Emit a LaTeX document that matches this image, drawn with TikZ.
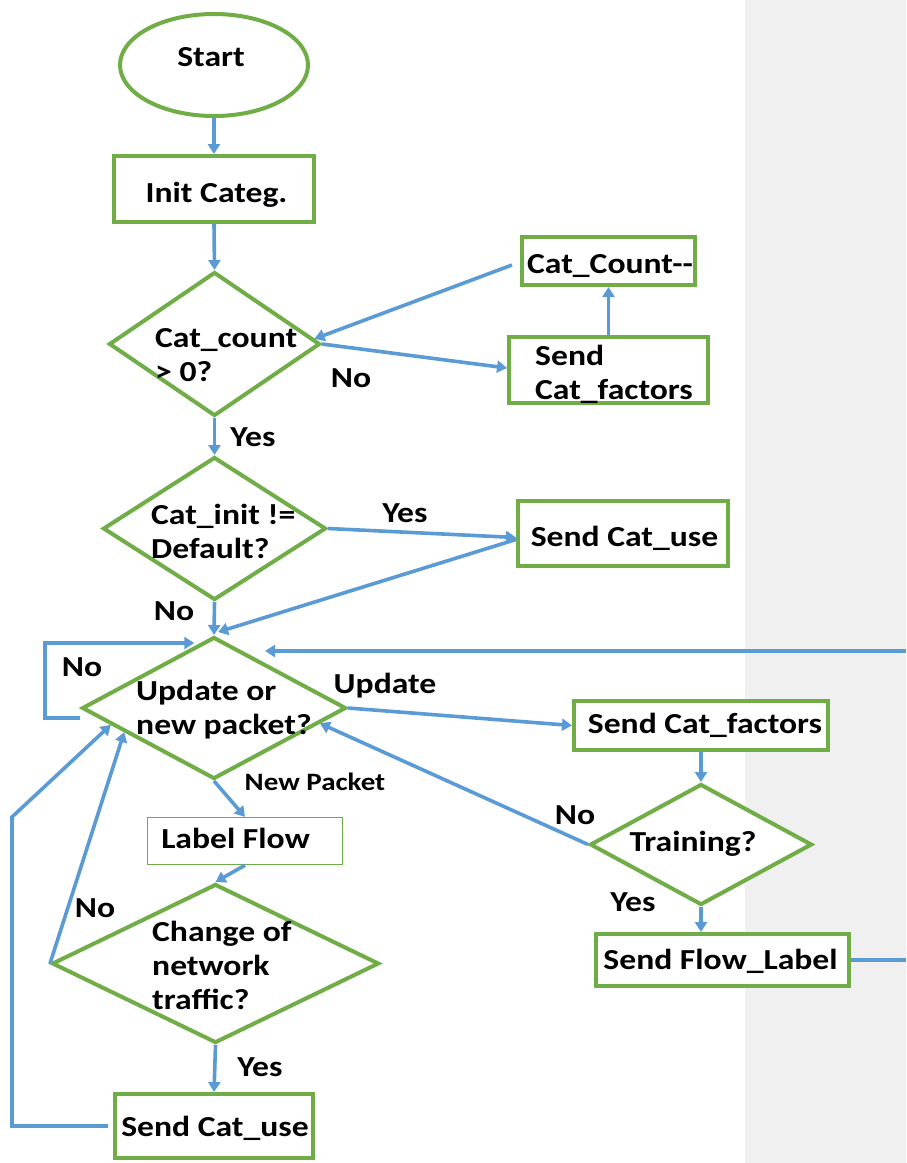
\documentclass[tikz,border=0pt]{standalone}
\usepackage{fontspec}
\setmainfont{Carlito}[FakeStretch=1.16]
\usetikzlibrary{shapes.geometric,arrows.meta,calc}
\definecolor{flowgreen}{HTML}{70AD47}
\definecolor{flowblue}{HTML}{5B9BD5}
\definecolor{panelgray}{HTML}{F0F0F0}
\begin{document}
\begin{tikzpicture}[x=1pt,y=-1pt,
  font=\bfseries\fontsize{29}{34}\selectfont,
  box/.style={draw=flowgreen, line width=4pt, fill=white, rectangle, inner sep=0pt},
  dec/.style={draw=flowgreen, line width=4pt, fill=white, diamond, inner sep=0pt},
  arr/.style={draw=flowblue, line width=3.6pt, -{Triangle[length=10pt,width=12pt]}},
  link/.style={draw=flowblue, line width=3.6pt},
  lbl/.style={inner sep=0pt},
  captext/.style={inner sep=0pt, text height=18pt, text depth=0pt},
  txt/.style={inner sep=0pt, align=left, anchor=west}]

% canvas and the grey side panel
\useasboundingbox (0,0) rectangle (906,1163);
\fill[white] (0,0) rectangle (906,1163);
\fill[panelgray] (745,0) rectangle (906,1163);

% shapes
\node[draw=flowgreen, line width=4pt, fill=white, ellipse, inner sep=0pt,
      minimum width=188, minimum height=102] (start) at (214,65) {};
\node[box, minimum width=200, minimum height=66] (init) at (214,189) {};
\node[dec, minimum width=211, minimum height=144] (d1) at (214.5,344) {};
\node[box, minimum width=173, minimum height=48] (catcnt) at (608.5,261) {};
\node[box, minimum width=199, minimum height=66] (sendf1) at (608.5,370) {};
\node[dec, minimum width=223, minimum height=143] (d2) at (214.5,528.5) {};
\node[box, minimum width=210, minimum height=65] (senduse1) at (623,533.5) {};
\node[dec, minimum width=264, minimum height=142] (d3) at (214,708) {};
\node[box, minimum width=254, minimum height=49] (sendf2) at (701,725.5) {};
\node[dec, minimum width=222, minimum height=121] (dtrain) at (701,844.5) {};
\node[box, minimum width=253, minimum height=52] (flowlab) at (722.5,960) {};
\node[box, line width=1.3pt, minimum width=195, minimum height=47] (labflow) at (245,841) {};
\node[dec, minimum width=327, minimum height=159] (dchange) at (215.5,963.5) {};
\node[box, minimum width=198, minimum height=64] (senduse2) at (214,1126) {};

% texts of the shapes
\node[captext] at (211,57.5) {Start};
\node[captext] at (216.5,193) {Init Categ.};
\node[txt] at (155,355) {Cat\_count\\> 0?};
\node[captext] at (610,264.5) {Cat\_Count-{}-};
\node[txt] at (535,374) {Send\\Cat\_factors};
\node[txt] at (151,531) {Cat\_init !=\\Default?};
\node[captext] at (624.5,537.5) {Send Cat\_use};
\node[txt] at (136,710) {Update or\\new packet?};
\node[captext] at (705,724) {Send Cat\_factors};
\node[captext] at (693,842) {Training?};
\node[captext] at (720.5,960.5) {Send Flow\_Label};
\node[captext] at (235.5,839) {Label Flow};
\node[txt] at (152,965) {Change of\\network\\traffic?};
\node[captext] at (215,1127.5) {Send Cat\_use};

% free ends of the feedback line from the side panel
\coordinate (feedin) at (906,651);
\coordinate (feedtip) at (265,651);
\coordinate (feedout) at (906,960);
\coordinate (backcorner) at (12,817);

% connectors
\draw[arr] (start.south) -- (init.north);
\draw[arr] (init.south) -- (d1.north);
\draw[arr] ([xshift=-8pt,yshift=-4pt]catcnt.west) -- ($(d1.east)!0.07!(d1.north)$);
\draw[arr] (d1.east) -- ([yshift=2pt]sendf1.west);
\draw[arr] (sendf1.north) -- (catcnt.south);
\draw[arr] (d1.south) -- (d2.north);
\draw[arr] (d2.east) -- ([yshift=-4pt]senduse1.west);
\draw[arr] ([yshift=-6pt]senduse1.west) -- ([shift={(4pt,3pt)}]d3.north);
\draw[arr] (d2.south) -- (d3.north);
\draw[arr] ([yshift=-10pt]d3.west) -- ++(-35,0) |- ($(d3.north)!0.11!(d3.west)+(-5,0)$);
\draw[arr] (feedin) -- (feedtip);
\draw[arr] (d3.east) -- (sendf2.west);
\draw[arr] (sendf2.south) -- (dtrain.north);
\draw[arr] (dtrain.west) -- ($(d3.east)!0.21!(d3.south)$);
\draw[arr] (dtrain.south) -- (dtrain.south |- flowlab.north);
\draw[link] (flowlab.east) -- (feedout);
\draw[arr] (d3.south) -- (labflow.north);
\draw[arr] (labflow.south) -- (dchange.north);
\draw[arr] (dchange.west) -- ($(d3.west)!0.33!(d3.south)$);
\draw[arr] (dchange.south) -- (senduse2.north);
\draw[arr] ([xshift=-5pt]senduse2.west) -| (backcorner) -- ($(d3.west)!0.23!(d3.south)$);

% branch labels
\node[lbl] at (351,378) {No};
\node[lbl] at (253,437) {Yes};
\node[lbl] at (405,513) {Yes};
\node[lbl] at (174,611) {No};
\node[lbl] at (82,667) {No};
\node[lbl] at (385,686) {Update};
\node[lbl, font=\bfseries\fontsize{25}{30}\selectfont] at (315,782) {New Packet};
\node[lbl] at (575,815) {No};
\node[lbl] at (633,902) {Yes};
\node[lbl] at (95,908) {No};
\node[lbl] at (260,1067) {Yes};
\end{tikzpicture}
\end{document}
